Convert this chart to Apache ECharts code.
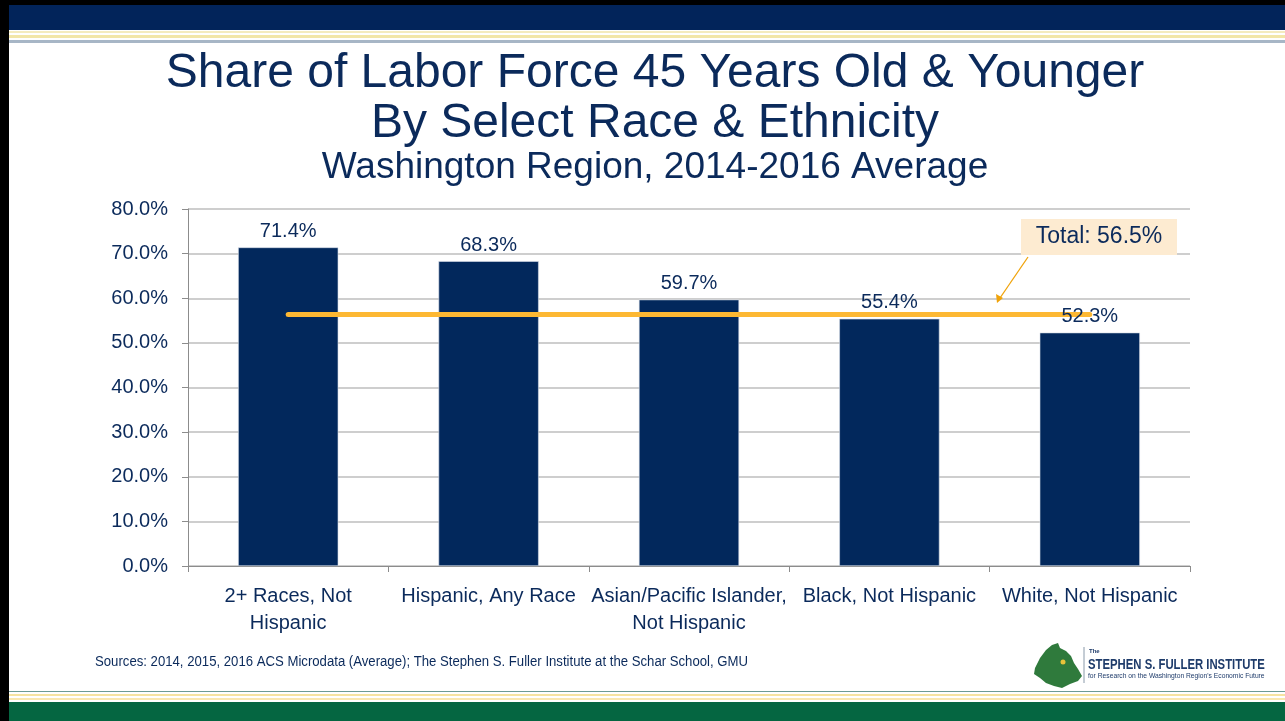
<!DOCTYPE html>
<html>
<head>
<meta charset="utf-8">
<script src="https://cdn.jsdelivr.net/npm/echarts@6/dist/echarts.min.js"></script>
<style>
html,body{margin:0;padding:0;background:#fff;}
#chart{width:1285px;height:721px;}
</style>
</head>
<body>
<div id="chart"></div>
<script>
var categories = ['2+ Races, Not\nHispanic', 'Hispanic, Any Race', 'Asian/Pacific Islander,\nNot Hispanic', 'Black, Not Hispanic', 'White, Not Hispanic'];
var shares = [71.4, 68.3, 59.7, 55.4, 52.3];
var totalShare = 56.5;
var yTicks = [0, 10, 20, 30, 40, 50, 60, 70, 80];
var titleLines = ['Share of Labor Force 45 Years Old & Younger', 'By Select Race & Ethnicity'];
var subtitleText = 'Washington Region, 2014-2016 Average';

var NAVY = '#0B2A5B';
var BAR = '#02285C';
var FONT = '"Liberation Sans", Arial, sans-serif';

var chart = echarts.init(document.getElementById('chart'));
var option = {
  animation: false,
  backgroundColor: '#ffffff',
  grid: { left: 188, right: 95, top: 209, bottom: 155 },
  xAxis: {
    type: 'category', data: categories,
    axisLine: { lineStyle: { color: '#8C8C8C', width: 1 } },
    axisTick: { show: true, length: 6, lineStyle: { color: '#8C8C8C' } },
    axisLabel: { color: NAVY, fontSize: 20, fontFamily: FONT, margin: 17, lineHeight: 27, interval: 0 }
  },
  yAxis: {
    type: 'value', min: yTicks[0], max: yTicks[yTicks.length - 1], interval: 10,
    axisLine: { show: true, lineStyle: { color: '#8C8C8C', width: 1 } },
    axisTick: { show: true, length: 6, lineStyle: { color: '#8C8C8C' } },
    splitLine: { lineStyle: { color: '#BEBEBE', width: 1.5 } },
    axisLabel: { color: NAVY, fontSize: 20, fontFamily: FONT, margin: 20,
      formatter: function (v) { return v.toFixed(1) + '%'; } }
  },
  series: [{
    type: 'bar', data: shares, barWidth: '50%',
    itemStyle: { color: BAR, borderColor: '#D7DEE8', borderWidth: 0.6 },
    label: { show: false },
    z: 2,
    markLine: {
      silent: true, symbol: ['none', 'none'], z: 3,
      lineStyle: { color: '#FDB833', width: 5, type: 'solid', cap: 'round' },
      label: { show: false },
      data: [[{ coord: [0, totalShare] }, { coord: [categories.length - 1, totalShare] }]]
    }
  }, {
    type: 'bar', data: shares, barWidth: '50%', barGap: '-100%', silent: true, z: 5,
    itemStyle: { color: 'rgba(0,0,0,0)' },
    label: { show: true, position: 'top', distance: 6, color: NAVY, fontSize: 20, fontFamily: FONT,
      formatter: function (p) { return p.value.toFixed(1) + '%'; } }
  }],
  graphic: [
    // frame and banners
    { type: 'rect', shape: { x: 0, y: 0, width: 1285, height: 5 }, style: { fill: '#000' } },
    { type: 'rect', shape: { x: 0, y: 5, width: 1285, height: 25 }, style: { fill: '#02245A' } },
    { type: 'rect', shape: { x: 0, y: 31, width: 1285, height: 2 }, style: { fill: '#F4EBBE' } },
    { type: 'rect', shape: { x: 0, y: 35, width: 1285, height: 3 }, style: { fill: '#F2E6A8' } },
    { type: 'rect', shape: { x: 0, y: 40, width: 1285, height: 3 }, style: { fill: '#A7B6C6' } },
    { type: 'rect', shape: { x: 0, y: 691, width: 1285, height: 1 }, style: { fill: '#6C9A93' } },
    { type: 'rect', shape: { x: 0, y: 694, width: 1285, height: 2 }, style: { fill: '#F6E3A0' } },
    { type: 'rect', shape: { x: 0, y: 698, width: 1285, height: 2 }, style: { fill: '#F9E7AE' } },
    { type: 'rect', shape: { x: 0, y: 702, width: 1285, height: 19 }, style: { fill: '#056641' } },
    { type: 'rect', shape: { x: 0, y: 0, width: 9, height: 721 }, style: { fill: '#000' } },
    // titles
    { type: 'text', x: 655, y: 74, style: { text: titleLines[0], fill: NAVY, font: '48px ' + FONT, textAlign: 'center', textVerticalAlign: 'middle' } },
    { type: 'text', x: 655, y: 124, style: { text: titleLines[1], fill: NAVY, font: '48px ' + FONT, textAlign: 'center', textVerticalAlign: 'middle' } },
    { type: 'text', x: 655, y: 168, style: { text: subtitleText, fill: NAVY, font: '37px ' + FONT, textAlign: 'center', textVerticalAlign: 'middle' } },
    // callout
    { type: 'rect', shape: { x: 1021, y: 219, width: 156, height: 36 }, style: { fill: '#FDEBD1' }, z: 10 },
    { type: 'text', x: 1099, y: 237, z: 11,
      style: { text: 'Total: ' + totalShare.toFixed(1) + '%', fill: NAVY, font: '23px ' + FONT, textAlign: 'center', textVerticalAlign: 'middle' } },
    { type: 'line', shape: { x1: 1028, y1: 257, x2: 1000, y2: 298 }, style: { stroke: '#F0A30A', lineWidth: 1.3 }, z: 10 },
    { type: 'polygon', shape: { points: [[997, 303], [996, 294], [1003, 298]] }, style: { fill: '#F0A30A' }, z: 10 },
    // sources
    { type: 'text', x: 95, y: 662, scaleX: 0.94,
      style: { text: 'Sources: 2014, 2015, 2016 ACS Microdata (Average); The Stephen S. Fuller Institute at the Schar School, GMU',
        fill: NAVY, font: '14px ' + FONT, textVerticalAlign: 'middle' } },
    // logo
    { type: 'polygon', shape: { points: [[1035,668],[1040,658],[1046,650],[1052,645],[1058,643],[1060,648],[1066,651],[1071,656],[1074,663],[1078,669],[1082,676],[1078,681],[1070,684],[1062,688],[1054,686],[1046,683],[1040,678],[1034,674]] },
      style: { fill: '#2F7A3C' } },
    { type: 'circle', shape: { cx: 1063, cy: 662, r: 2.5 }, style: { fill: '#E8C33A' } },
    { type: 'line', shape: { x1: 1084, y1: 647, x2: 1084, y2: 683 }, style: { stroke: '#8A9AAA', lineWidth: 1 } },
    { type: 'text', x: 1089, y: 651, style: { text: 'The', fill: '#1E3B6A', font: 'bold 6px ' + FONT, textVerticalAlign: 'middle' } },
    { type: 'text', x: 1088, y: 665, scaleX: 0.755,
      style: { text: 'STEPHEN S. FULLER INSTITUTE', fill: '#1E3B6A', font: 'bold 15px ' + FONT, textVerticalAlign: 'middle' } },
    { type: 'text', x: 1088, y: 676, scaleX: 0.96,
      style: { text: "for Research on the Washington Region's Economic Future", fill: '#1E3B6A', font: '7px ' + FONT, textVerticalAlign: 'middle' } }
  ]
};
chart.setOption(option);
</script>
</body>
</html>
